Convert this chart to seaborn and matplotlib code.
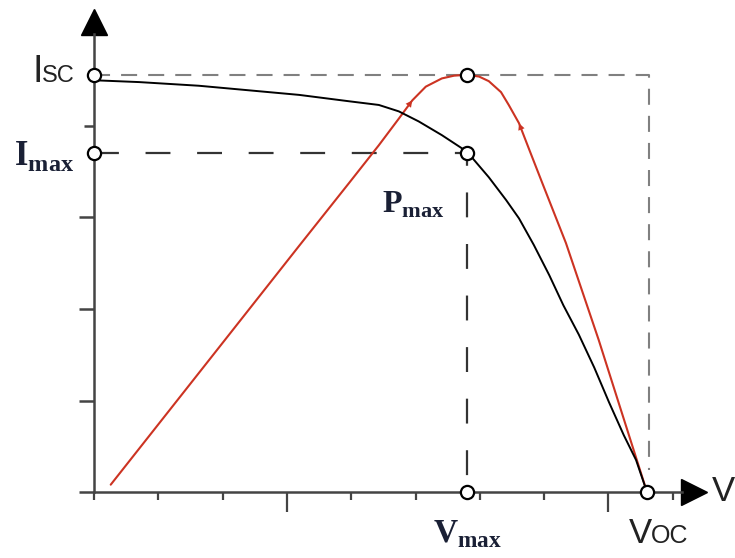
import numpy as np
import seaborn as sns
import matplotlib.pyplot as plt


################################################################################

# I-V curve (black), in axis tick units
iv_v = [0.00, 0.70, 1.63, 2.41, 3.19, 3.97, 4.43, 4.74, 5.05, 5.41, 5.80,
        6.14, 6.41, 6.61, 6.84, 7.08, 7.30, 7.54, 7.78, 8.01, 8.24, 8.43,
        8.60]
iv_i = [4.50, 4.48, 4.44, 4.39, 4.34, 4.27, 4.23, 4.16, 4.05, 3.90, 3.72,
        3.44, 3.19, 2.99, 2.70, 2.37, 2.04, 1.72, 1.36, 0.98, 0.62, 0.35,
        0.00]

# P-V curve (red)
pv_v = [0.26, 1.63, 3.19, 3.97, 4.43, 4.74, 4.95, 5.16, 5.41, 5.60, 5.80,
        5.99, 6.14, 6.33, 6.45, 6.61, 6.77, 6.97, 7.34, 7.85, 8.60]
pv_p = [0.08, 1.30, 2.69, 3.38, 3.79, 4.08, 4.28, 4.43, 4.52, 4.55, 4.56,
        4.54, 4.49, 4.37, 4.23, 4.03, 3.74, 3.38, 2.72, 1.66, 0.00]

# key points
I_SC = 4.56
I_MAX = 3.70
V_MAX = 5.80
V_OC = 8.60
P_MAX = 4.56
BOX_V = 8.63     # right edge of the grey dashed box
BOX_LOW = 0.24   # where the grey dashed edge stops

X_MAJOR = [3, 8]
X_MINOR = [0, 1, 2, 4, 5, 6, 7, 9]
Y_MAJOR = [0, 1, 2, 3]
Y_MINOR = [4]

AXIS_COL = "#444444"
RED = "#cc3322"
NAVY = "#1a2035"
W, H = 735, 558


def fx(px):
  return px / W


def fy(py):
  return 1 - py / H


def main():
  sns.set_style("white")
  plt.rcParams["font.family"] = ["Liberation Sans", "DejaVu Sans"]
  plt.rcParams["mathtext.fontset"] = "custom"
  plt.rcParams["mathtext.rm"] = "Liberation Serif"
  plt.rcParams["mathtext.bf"] = "Liberation Serif:bold"

  fig = plt.figure(figsize=(W / 100, H / 100), dpi=100)
  ax = fig.add_axes([0, 0, 1, 1])
  ax.set_xlim(-94 / 64.3, 641 / 64.3)
  ax.set_ylim(-66 / 91.5, 492 / 91.5)

  # axes through the origin, with arrow heads
  for s in ["top", "right"]:
    ax.spines[s].set_visible(False)
  ax.spines["left"].set_position(("data", 0))
  ax.spines["bottom"].set_position(("data", 0))
  ax.spines["left"].set_bounds(0, 5.0)
  ax.spines["bottom"].set_bounds(0, 9.15)
  for s in ["left", "bottom"]:
    ax.spines[s].set_color(AXIS_COL)
    ax.spines[s].set_linewidth(1.8)
  ax.plot([0], [5.14], marker="^", ms=19, color="black", clip_on=False)
  ax.plot([9.33], [0], marker=">", ms=19, color="black", clip_on=False)

  ax.set_xticks(X_MAJOR)
  ax.set_xticks(X_MINOR, minor=True)
  ax.set_yticks(Y_MAJOR)
  ax.set_yticks(Y_MINOR, minor=True)
  ax.set_xticklabels([])
  ax.set_yticklabels([])
  ax.tick_params(bottom=True, left=True, which="both")
  ax.tick_params(axis="x", which="major", direction="out", length=14.4, width=1.6, color=AXIS_COL)
  ax.tick_params(axis="x", which="minor", direction="out", length=5.8, width=1.6, color=AXIS_COL)
  ax.tick_params(axis="y", which="major", direction="out", length=10.8, width=1.8, color=AXIS_COL)
  ax.tick_params(axis="y", which="minor", direction="out", length=7, width=1.8, color=AXIS_COL)

  # dashed guides
  ax.plot([0, BOX_V, BOX_V], [I_SC, I_SC, BOX_LOW], color="#808080", lw=1.5,
          dashes=(7.7, 5.3))
  ax.plot([0, V_MAX, V_MAX], [I_MAX, I_MAX, 0], color="#333333", lw=1.6,
          dashes=(11.2, 12.0))

  # curves
  sns.lineplot(x=pv_v, y=pv_p, ax=ax, color=RED, lw=1.5, sort=False, estimator=None)
  sns.lineplot(x=iv_v, y=iv_i, ax=ax, color="black", lw=1.4, sort=False, estimator=None)

  # small arrow heads on the power curve pointing to the peak
  for a, b in [(5, 6), (16, 15)]:
    ax.annotate("", xy=(pv_v[b], pv_p[b]), xytext=(pv_v[a], pv_p[a]),
                arrowprops=dict(arrowstyle="-|>", color=RED, lw=0,
                                mutation_scale=12, shrinkA=0, shrinkB=0))

  # open circles
  pts_x = [0, 0, V_MAX, V_MAX, V_MAX, V_OC]
  pts_y = [I_SC, I_MAX, P_MAX, I_MAX, 0, 0]
  ax.plot(pts_x, pts_y, ls="none", marker="o", ms=9.5, mfc="white",
          mec="black", mew=1.6, clip_on=False, zorder=5)

  # labels
  t = ax.transAxes
  ax.text(fx(32), fy(82), "I", fontsize=27, color="#222222", transform=t, va="baseline")
  ax.text(fx(42), fy(82), "SC", fontsize=17, color="#222222", transform=t, va="baseline")
  ax.text(fx(629), fy(543), "V", fontsize=25, color="#222222", transform=t, va="baseline")
  ax.text(fx(651), fy(543), "OC", fontsize=18, color="#222222", transform=t, va="baseline")
  ax.text(fx(712), fy(501), "V", fontsize=25, color="#222222", transform=t, va="baseline")
  ax.text(fx(14), fy(165), r"$\mathbf{I}_{\mathbf{max}}$", fontsize=25, color=NAVY,
          transform=t, va="baseline")
  ax.text(fx(382), fy(213), r"$\mathbf{P}_{\mathbf{max}}$", fontsize=23, color=NAVY,
          transform=t, va="baseline")
  ax.text(fx(433), fy(542), r"$\mathbf{V}_{\mathbf{max}}$", fontsize=24, color=NAVY,
          transform=t, va="baseline")

  fig.savefig("out.png", dpi=100)


main()
